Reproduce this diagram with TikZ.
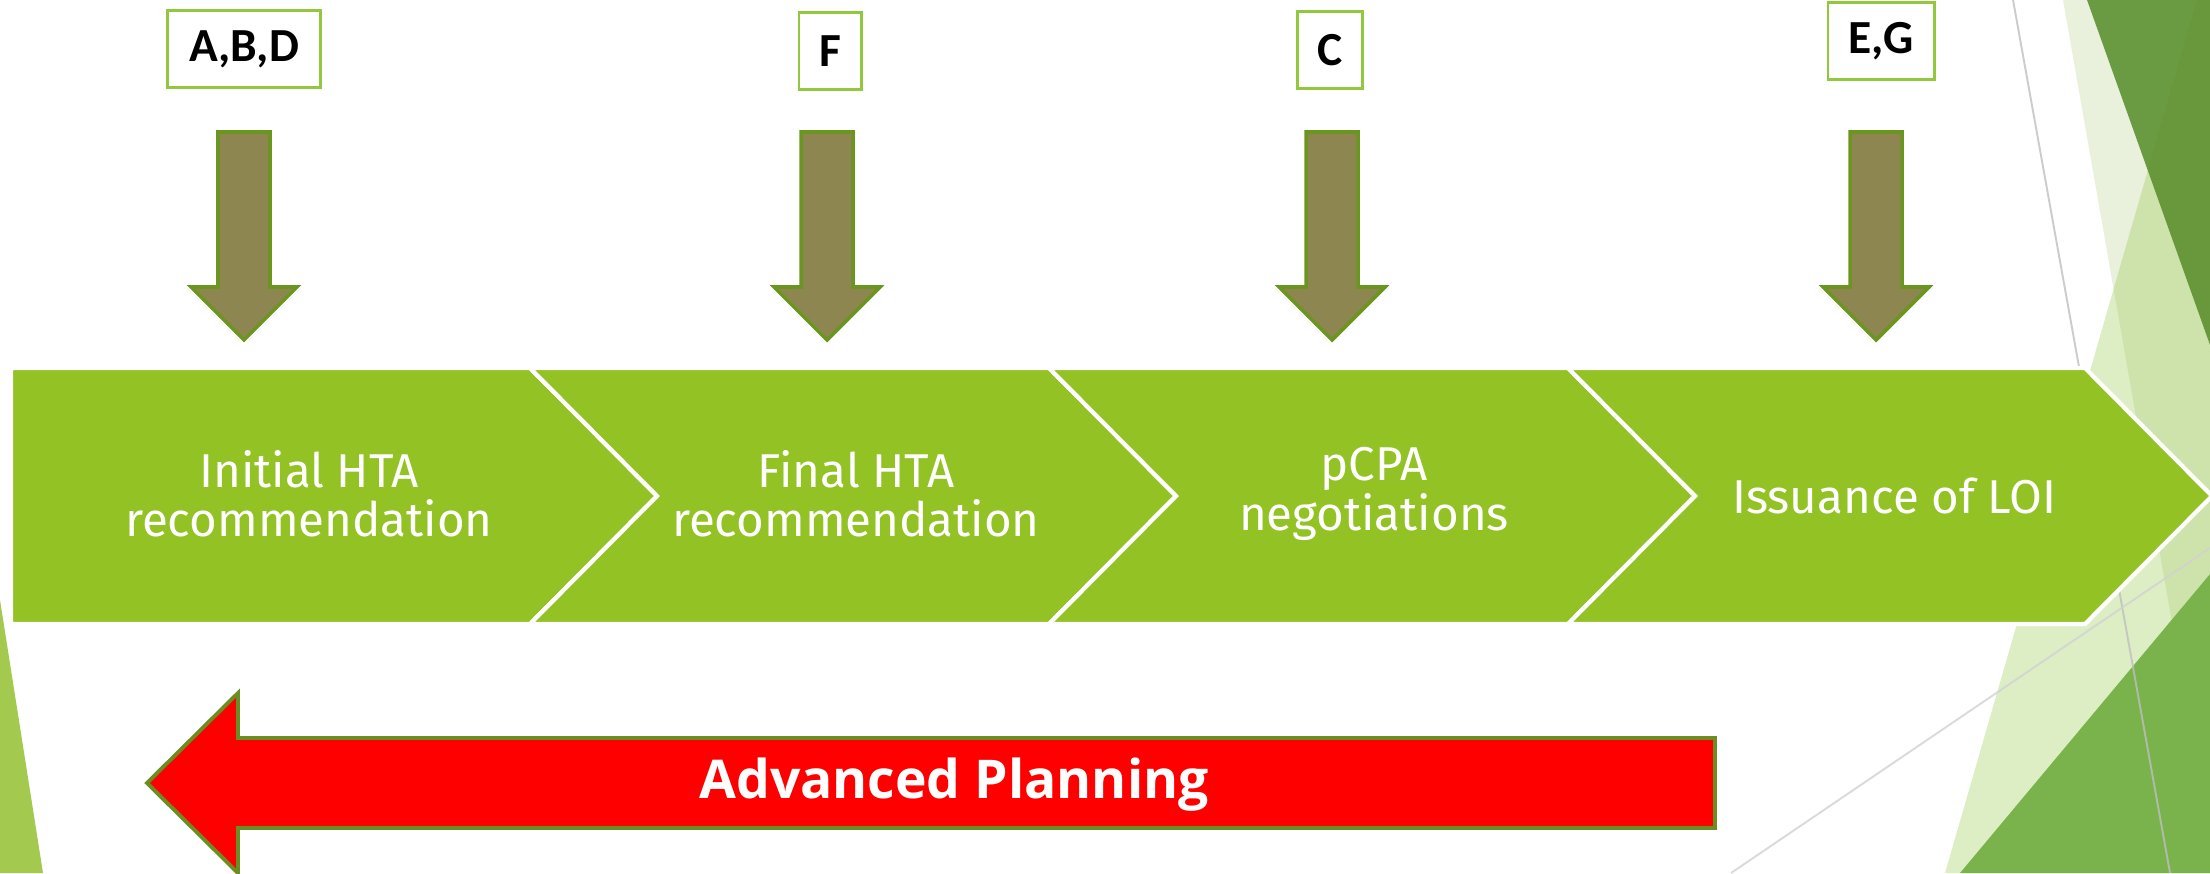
\documentclass[tikz,border=0pt]{standalone}
\usepackage{fontspec}
\setmainfont{Fira Sans}
\newfontfamily\labelfont{Carlito}
\newfontfamily\bannerfont{Open Sans}

\definecolor{bandgreen}{HTML}{93C225}
\definecolor{boxgreen}{HTML}{92C83E}
\definecolor{arrowfill}{HTML}{8E8650}
\definecolor{arrowline}{HTML}{6A951F}
\definecolor{redline}{HTML}{6B8E23}
\definecolor{facetpale}{HTML}{9BBB59}
\definecolor{facetmid}{HTML}{8DC63F}
\definecolor{facetdark}{HTML}{5A8E2C}
\definecolor{facetgreen}{HTML}{7AB24B}
\definecolor{facetleft}{HTML}{A3C94F}

\begin{document}
\begin{tikzpicture}[x=0.01cm,y=-0.01cm,
  stage/.style={fill=bandgreen,draw=white,line width=1.2pt,line join=miter},
  stagetext/.style={text=white,align=center,font=\fontsize{13.5}{14}\selectfont},
  marker/.style={draw=boxgreen,line width=0.85pt,fill=white,inner sep=0pt,
    minimum height=0.77cm,font=\labelfont\bfseries\fontsize{13.5}{15}\selectfont},
  downarrow/.style={fill=arrowfill,draw=arrowline,line width=1pt,line join=miter}]
\clip (0,0) rectangle (2210,873);

% facet triangles in the background
\fill[facetpale,opacity=0.22] (2063,0) -- (2210,0) -- (2210,840) -- cycle;
\fill[facetmid,opacity=0.3] (2197,0) -- (2210,0) -- (2210,873) -- (1945,873) -- cycle;
\fill[facetdark,opacity=0.88] (2087,0) -- (2210,0) -- (2210,345) -- cycle;
\fill[facetgreen] (1960,873) -- (2210,574) -- (2210,873) -- cycle;
\fill[facetleft] (0,600) -- (43,873) -- (0,873) -- cycle;
\draw[black!25,opacity=0.8,line width=0.55pt] (2013,0) -- (2170,873);
\draw[black!18,opacity=0.8,line width=0.55pt] (1731,873) -- (2210,548);

% process band
\draw[stage] (11,368) -- (530,368) -- (657,496) -- (530,624) -- (11,624) -- cycle;
\draw[stage] (530,368) -- (1049,368) -- (1176,496) -- (1049,624) -- (530,624) -- (657,496) -- cycle;
\draw[stage] (1049,368) -- (1568,368) -- (1695,496) -- (1568,624) -- (1049,624) -- (1176,496) -- cycle;
\draw[stage] (1568,368) -- (2085,368) -- (2212,496) -- (2085,624) -- (1568,624) -- (1695,496) -- cycle;

\node[stagetext] (initial) at (309,494) {Initial HTA\\recommendation};
\node[stagetext] (final) at (856,494) {Final HTA\\recommendation};
\node[stagetext] (pcpa) at (1374,494) {pCPA\\negotiations};
\node[stagetext] (loi) at (1894,496) {Issuance of LOI};

% labels and arrows on top
\node[marker,minimum width=1.52cm] (abd) at (244,49) {A,B,D};
\node[marker,minimum width=0.62cm] (f) at (830,51) {F};
\node[marker,minimum width=0.65cm] (c) at (1330,50) {C};
\node[marker,minimum width=1.06cm] (eg) at (1881,41) {E,G};

\foreach \cx in {244,827,1332,1876}
  \draw[downarrow,shift={(\cx,0)}] (-26,132) -- (26,132) -- (26,287) -- (53,287)
    -- (0,340) -- (-53,287) -- (-26,287) -- cycle;

% planning arrow
\draw[fill=red,draw=redline,line width=1.1pt,line join=miter] (1715,738) -- (238,738)
  -- (238,693) -- (147,783) -- (238,873) -- (238,828) -- (1715,828) -- cycle;
\node[text=white,font=\bannerfont\bfseries\fontsize{15.2}{18}\selectfont] (planning) at (954,785) {Advanced Planning};
\end{tikzpicture}
\end{document}
